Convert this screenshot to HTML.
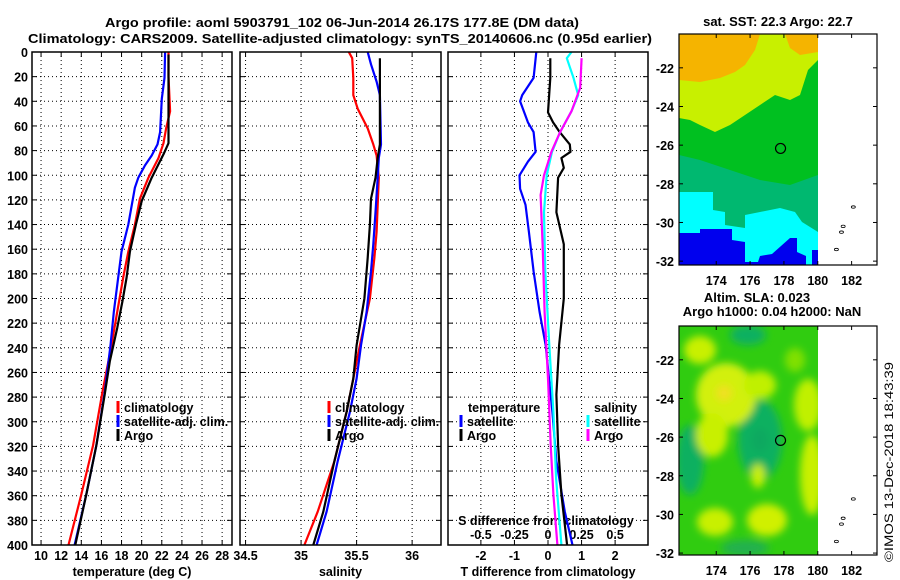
<!DOCTYPE html>
<html><head><meta charset="utf-8"><style>
html,body{margin:0;padding:0;background:#fff;}
svg{display:block;font-family:"Liberation Sans",sans-serif;}
.t{font-weight:bold;font-size:13px;fill:#000;}
.tk{font-weight:bold;font-size:12.5px;fill:#000;}
.lg{font-weight:bold;font-size:12.5px;fill:#000;}
.grid{stroke:#000;stroke-width:1;stroke-dasharray:1,3;}
</style></head><body>
<svg id="fig" width="900" height="580" viewBox="0 0 900 580">
<text class="t" x="342" y="27" text-anchor="middle" textLength="474" lengthAdjust="spacingAndGlyphs">Argo profile: aoml 5903791_102 06-Jun-2014 26.17S 177.8E (DM data)</text>
<text class="t" x="340" y="43" text-anchor="middle" textLength="624" lengthAdjust="spacingAndGlyphs">Climatology: CARS2009. Satellite-adjusted climatology: synTS_20140606.nc (0.95d earlier)</text>
<g id="panels"></g>
<g id="maps"></g>
<text x="893" y="462" font-size="12" text-anchor="middle" transform="rotate(-90 893 462)" textLength="200" lengthAdjust="spacingAndGlyphs">©IMOS 13-Dec-2018 18:43:39</text>
</svg>
<script>
// ---- depth axis ----
const depthTicks = [0,20,40,60,80,100,120,140,160,180,200,220,240,260,280,300,320,340,360,380,400];
// ---- panel 1 temperature ----
const tempTicks = [10,12,14,16,18,20,22,24,26,28];
const climTempDepth = [0,20,48,62,74,86,102,119,140,162,183,211,238,276,319,359,400];
const climTemp = [22.67,22.67,22.83,22.43,22.17,21.67,20.67,19.83,19.33,18.67,18.17,17.57,17.0,16.1,15.17,14.0,12.73];
const satTempDepth = [0,21,38,65,75,84,92,102,110,140,162,183,211,238,276,319,359,400];
const satTemp = [22.33,22.27,22.0,21.83,21.57,21.0,20.33,19.67,19.33,18.67,18.0,17.67,17.23,16.9,16.33,15.5,14.5,13.33];
const argoTempDepth = [2,74,83,102,121,140,162,183,202,224,251,278,319,359,400];
const argoTemp = [22.67,22.67,22.17,21.0,20.0,19.43,18.83,18.5,18.1,17.57,16.83,16.33,15.5,14.5,13.4];
// ---- panel 2 salinity ----
const salTicks = [34.5,35,35.5,36];
const salTickLabels = ["34.5","35","35.5","36"];
const climSalDepth = [0,5,21,35,46,62,75,84,102,124,146,167,200,238,265,292,332,373,400];
const climSal = [35.43,35.46,35.47,35.47,35.51,35.6,35.65,35.68,35.70,35.69,35.68,35.66,35.62,35.53,35.47,35.41,35.3,35.15,35.03];
const satSalDepth = [0,10,24,35,75,86,102,130,156,178,211,238,265,292,332,373,400];
const satSal = [35.6,35.63,35.68,35.71,35.72,35.70,35.69,35.67,35.65,35.63,35.59,35.54,35.5,35.44,35.33,35.23,35.14];
const argoSalDepth = [5,75,86,102,119,140,167,200,238,265,292,332,373,400];
const argoSal = [35.71,35.71,35.69,35.67,35.63,35.62,35.6,35.57,35.5,35.47,35.41,35.3,35.2,35.11];
// ---- panel 3 differences ----
const tdiffTicks = [-2,-1,0,1,2];
const sdiffTicks = [-0.5,-0.25,0,0.25,0.5];
const sdiffTickLabels = ["-0.5","-0.25","0","0.25","0.5"];
const tSatDiffDepth = [0,21,35,40,57,65,81,89,100,111,124,146,178,211,238,265,292,332,373,400];
const tSatDiff = [-0.35,-0.43,-0.77,-0.83,-0.6,-0.43,-0.37,-0.6,-0.85,-0.83,-0.67,-0.57,-0.43,-0.25,-0.07,0.03,0.13,0.25,0.5,0.73];
const tArgoDiffDepth = [5,21,49,57,65,75,81,86,94,102,130,156,200,238,278,319,359,400];
const tArgoDiff = [0.07,0.07,0,0.15,0.35,0.65,0.67,0.4,0.47,0.3,0.25,0.47,0.47,0.33,0.25,0.3,0.4,0.57];
const sSatDiffDepth = [0,5,21,35,48,65,81,100,130,178,238,292,346,400];
const sSatDiff = [0.175,0.14,0.19,0.225,0.175,0.09,0.03,-0.01,-0.03,-0.02,0.01,0.04,0.06,0.1];
const sArgoDiffDepth = [5,29,48,65,81,100,116,156,211,265,319,359,400];
const sArgoDiff = [0.25,0.24,0.175,0.09,0.025,-0.03,-0.055,-0.04,-0.025,0,0.02,0.04,0.07];

const NS='http://www.w3.org/2000/svg';
function mk(tag,attrs,parent,txt){const e=document.createElementNS(NS,tag);for(const k in attrs)e.setAttribute(k,attrs[k]);if(txt!==undefined)e.textContent=txt;parent.appendChild(e);return e;}
const TOP=52,BOT=545;
function yD(d){return TOP+(BOT-TOP)*d/400;}
const panels=document.getElementById('panels');

function panel(name,x0,x1,vmin,vmax){
  const g=mk('g',{},panels);
  
  
  const sx=v=>x0+(x1-x0)*(v-vmin)/(vmax-vmin);
  return {g,sx,x0,x1};
}
function frame(p,xticks,xlabels,title,showDepth){
  const g=p.g;
  depthTicks.forEach(d=>{
    if(d>0&&d<400){const l=mk('line',{x1:p.x0,x2:p.x1,y1:yD(d),y2:yD(d),class:'grid'},g);
      
      }
    mk('line',{x1:p.x0,x2:p.x0+5,y1:yD(d),y2:yD(d),stroke:'#000'},g);
    mk('line',{x1:p.x1,x2:p.x1-5,y1:yD(d),y2:yD(d),stroke:'#000'},g);
    if(showDepth){const t=mk('text',{x:28,y:yD(d)+5,class:'tk','text-anchor':'end'},g,String(d));
      
      }
  });
  xticks.forEach((v,i)=>{
    const x=p.sx(v);
    if(x>p.x0+2&&x<p.x1-2){const l=mk('line',{x1:x,x2:x,y1:TOP,y2:BOT,class:'grid'},g);
      
      }
    mk('line',{x1:x,x2:x,y1:BOT,y2:BOT-5,stroke:'#000'},g);
    mk('line',{x1:x,x2:x,y1:TOP,y2:TOP+5,stroke:'#000'},g);
    const t=mk('text',{x:x,y:560,class:'tk','text-anchor':'middle'},g,xlabels[i]);
    
    
  });
  const ti=mk('text',{x:(p.x0+p.x1)/2,y:576,class:'tk','text-anchor':'middle'},g,title);
  
  
}
function border(p){const r=mk('rect',{x:p.x0,y:TOP,width:p.x1-p.x0,height:BOT-TOP,fill:'none',stroke:'#000','stroke-width':1.5},p.g);
  
  }
function line(p,depths,vals,color,w,name){
  const pts=vals.map((v,i)=>p.sx(v).toFixed(1)+','+yD(depths[i]).toFixed(1)).join(' ');
  const pl=mk('polyline',{points:pts,fill:'none',stroke:color,'stroke-width':w,'stroke-linejoin':'round'},p.g);
  
  
}
function legend(p,x,y,color,label,name){
  mk('line',{x1:x,x2:x,y1:y-11,y2:y+1,stroke:color,'stroke-width':3},p.g);
  const t=mk('text',{x:x+6,y:y,class:'lg'},p.g,label);
  
  
}

// panel 1
const p1=panel('temperature-panel',32,232,9.1,28.98);
frame(p1,tempTicks,tempTicks.map(String),'temperature (deg C)',true);
line(p1,climTempDepth,climTemp,'#ff0000',2.2,'climatology-temp-line');
line(p1,satTempDepth,satTemp,'#0000ff',2.2,'satellite-temp-line');
line(p1,argoTempDepth,argoTemp,'#000',2.2,'argo-temp-line');
legend(p1,118,412,'#ff0000','climatology','legend-climatology');
legend(p1,118,426,'#0000ff','satellite-adj. clim.','legend-satellite-adj');
legend(p1,118,440,'#000','Argo','legend-argo');
border(p1);
// panel 2
const p2=panel('salinity-panel',240,441,34.45,36.26);
frame(p2,salTicks,salTickLabels,'salinity',false);
line(p2,climSalDepth,climSal,'#ff0000',2.2,'climatology-sal-line');
line(p2,satSalDepth,satSal,'#0000ff',2.2,'satellite-sal-line');
line(p2,argoSalDepth,argoSal,'#000',2.2,'argo-sal-line');
legend(p2,329,412,'#ff0000','climatology','legend-climatology');
legend(p2,329,426,'#0000ff','satellite-adj. clim.','legend-satellite-adj');
legend(p2,329,440,'#000','Argo','legend-argo');
border(p2);
// panel 3
const p3=panel('difference-panel',448,648,-2.98,2.98);
frame(p3,tdiffTicks,tdiffTicks.map(String),'T difference from climatology',false);
const sx3=v=>p3.sx(v*4);
sdiffTicks.forEach((v,i)=>{const t=mk('text',{x:sx3(v),y:539,class:'tk','text-anchor':'middle'},p3.g,sdiffTickLabels[i]);
  
  });
const st=mk('text',{x:546,y:525,class:'tk','text-anchor':'middle'},p3.g,'S difference from climatology');


line(p3,tSatDiffDepth,tSatDiff,'#0000ff',2.2,'temp-satellite-diff-line');
line(p3,tArgoDiffDepth,tArgoDiff,'#000',2.2,'temp-argo-diff-line');
line(p3,sSatDiffDepth,sSatDiff.map(v=>v*4),'#00ffff',2.2,'sal-satellite-diff-line');
line(p3,sArgoDiffDepth,sArgoDiff.map(v=>v*4),'#ff00ff',2.2,'sal-argo-diff-line');
const lt=mk('text',{x:468,y:412,class:'lg'},p3.g,'temperature');


const ls=mk('text',{x:594,y:412,class:'lg'},p3.g,'salinity');


legend(p3,461,426,'#0000ff','satellite','legend-temp-satellite');
legend(p3,461,440,'#000','Argo','legend-temp-argo');
legend(p3,588,426,'#00ffff','satellite','legend-sal-satellite');
legend(p3,588,440,'#ff00ff','Argo','legend-sal-argo');
border(p3);
</script>
<script>
// ---- maps ----
const mapLats = [-22,-24,-26,-28,-30,-32];
const mapLons = [174,176,178,180,182];
const floatLon = 177.8, floatLat = -26.17;
const maps=document.getElementById('maps');
const MX0=679,MX1=877,LON0=171.8,LON1=183.5;
function mx(lon){return MX0+(MX1-MX0)*(lon-LON0)/(LON1-LON0);}
function mapAxes(g,top,bot,latTop,latBot,labelY){
  const my=lat=>top+(bot-top)*(latTop-lat)/(latTop-latBot);
  mk('rect',{x:MX0,y:top,width:MX1-MX0,height:bot-top,fill:'none',stroke:'#000','stroke-width':1.2},g);
  mapLats.forEach(l=>{const y=my(l);
    mk('line',{x1:MX0,x2:MX0+4,y1:y,y2:y,stroke:'#000'},g);
    mk('line',{x1:MX1,x2:MX1-4,y1:y,y2:y,stroke:'#000'},g);
    const t=mk('text',{x:674,y:y+5,class:'tk','text-anchor':'end'},g,String(l));
    
    });
  mapLons.forEach(l=>{const x=mx(l);
    mk('line',{x1:x,x2:x,y1:bot,y2:bot-4,stroke:'#000'},g);
    mk('line',{x1:x,x2:x,y1:top,y2:top+4,stroke:'#000'},g);
    const t=mk('text',{x:x,y:labelY,class:'tk','text-anchor':'middle'},g,String(l));
    
    });
  const c=mk('circle',{cx:mx(floatLon),cy:my(floatLat),r:5,fill:'none',stroke:'#000','stroke-width':1.2},g);
  
  
  [[182.1,-29.2],[181.5,-30.2],[181.4,-30.5],[181.1,-31.4]].forEach(p=>{
    mk('ellipse',{cx:mx(p[0]),cy:my(p[1]),rx:2,ry:1.2,fill:'none',stroke:'#000','stroke-width':0.8},g);});
}
// SST map
const g1=mk('g',{},maps);


const tt1=mk('text',{x:778,y:26,class:'t','text-anchor':'middle'},g1,'sat. SST: 22.3 Argo: 22.7');


mk('rect',{x:679,y:34,width:139,height:231,fill:'#00b870'},g1);
mk('polygon',{points:'679,34 818,34 818,175 790,185 760,180 730,170 700,160 679,155',fill:'#00c020'},g1);
mk('polygon',{points:'679,34 818,34 818,60 808,70 800,95 790,100 775,95 760,105 745,115 730,125 715,132 700,125 690,120 679,118',fill:'#c8f000'},g1);
mk('polygon',{points:'679,34 760,34 755,50 745,65 735,72 720,78 700,82 679,80',fill:'#f5b400'},g1);
mk('polygon',{points:'785,34 818,34 818,52 800,55 790,48',fill:'#f5b400'},g1);
mk('polygon',{points:'679,192 713,192 713,210 725,212 725,225 745,228 745,215 760,212 780,208 795,212 802,222 818,232 818,265 679,265',fill:'#00ffff'},g1);
mk('polygon',{points:'679,233 700,233 700,229 732,229 732,240 745,242 745,262 758,262 760,256 772,254 790,238 797,238 797,252 806,256 806,265 679,265',fill:'#0000ee'},g1);
mk('rect',{x:812,y:250,width:6,height:15,fill:'#0000ee'},g1);
mk('rect',{x:818,y:34,width:59,height:231,fill:'#fff'},g1);
mapAxes(g1,34,265,-20.25,-32.2,285);
// SLA map
const g2=mk('g',{},maps);


const tt2=mk('text',{x:757,y:302,class:'t','text-anchor':'middle'},g2,'Altim. SLA: 0.023');


const tt3=mk('text',{x:772,y:316,class:'t','text-anchor':'middle'},g2,'Argo h1000: 0.04 h2000: NaN');


const defs=mk('defs',{},g2);
const f=mk('filter',{id:'bl',x:'-50%',y:'-50%',width:'200%',height:'200%'},defs);
mk('feGaussianBlur',{stdDeviation:4},f);
const cp=mk('clipPath',{id:'cp2'},defs);
mk('rect',{x:679,y:326,width:139,height:229},cp);
mk('rect',{x:679,y:326,width:139,height:229,fill:'#30cc10'},g2);
const bl=mk('g',{filter:'url(#bl)','clip-path':'url(#cp2)'},g2);
[[760,440,22,40,'#10b060'],[690,460,14,35,'#10b060'],[748,335,18,10,'#10b060'],
 [700,350,16,14,'#c8f000'],[726,395,30,32,'#d2f010'],[712,435,16,22,'#c8f000'],[760,385,16,14,'#c0f000'],
 [808,405,14,26,'#c0f000'],[812,475,12,40,'#c8f000'],
 [715,522,18,14,'#c8f000'],[767,520,20,16,'#d0f000'],[758,476,7,12,'#c8f000'],[795,360,10,12,'#80e000'],
 [745,548,24,8,'#20b050'],[760,440,8,12,'#10a860']].forEach(e=>{
  mk('ellipse',{cx:e[0],cy:e[1],rx:e[2],ry:e[3],fill:e[4]},bl);});
mk('ellipse',{cx:724,cy:393,rx:8,ry:8,fill:'#f0e020',filter:'url(#bl)'},g2);
mk('rect',{x:818,y:326,width:59,height:229,fill:'#fff'},g2);
mapAxes(g2,326,555,-20.25,-32.1,575);
</script>
</body></html>
